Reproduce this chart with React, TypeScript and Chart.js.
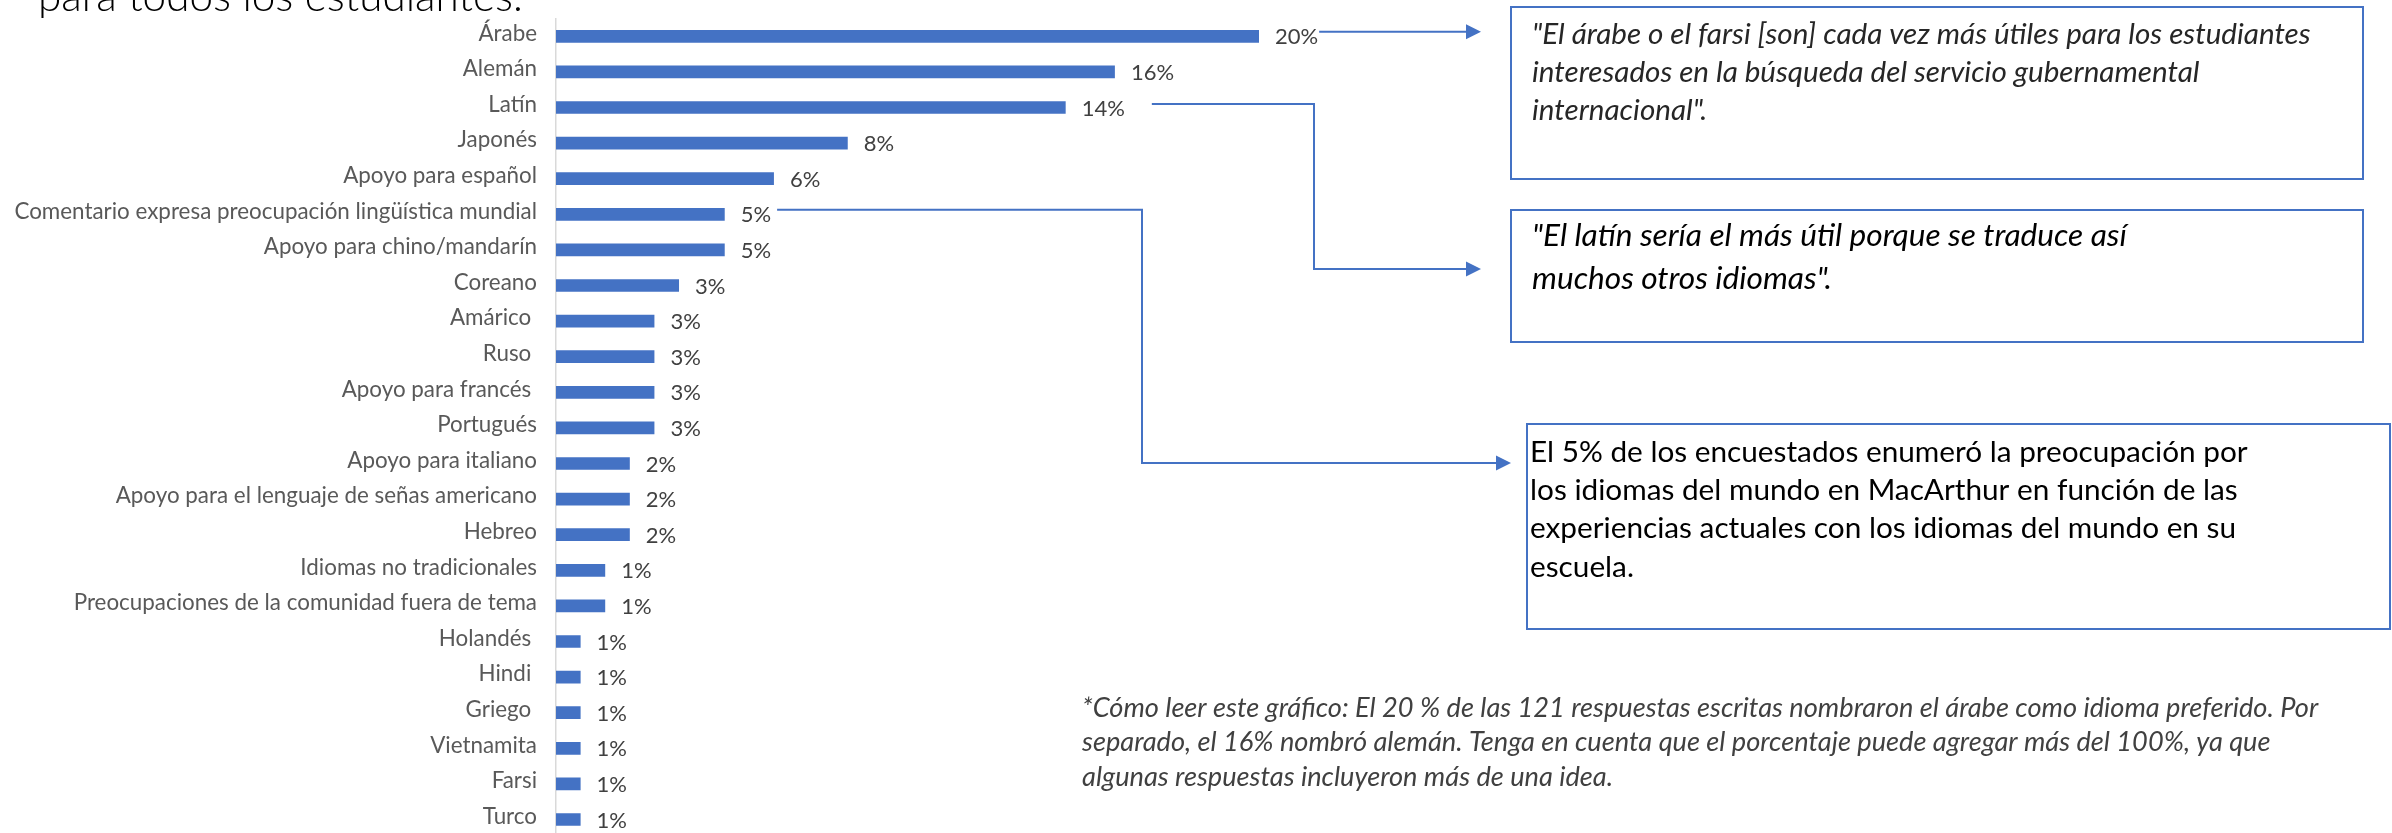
import React, { useEffect, useRef } from "react";
import { Chart, registerables } from "chart.js";

Chart.register(...registerables);

const categories = [
  "Árabe",
  "Alemán",
  "Latín",
  "Japonés",
  "Apoyo para español",
  "Comentario expresa preocupación lingüística mundial",
  "Apoyo para chino/mandarín",
  "Coreano",
  "Amárico ",
  "Ruso ",
  "Apoyo para francés ",
  "Portugués",
  "Apoyo para italiano",
  "Apoyo para el lenguaje de señas americano",
  "Hebreo",
  "Idiomas no tradicionales",
  "Preocupaciones de la comunidad fuera de tema",
  "Holandés ",
  "Hindi ",
  "Griego ",
  "Vietnamita",
  "Farsi",
  "Turco",
];

const values = [
  20, 15.9, 14.5, 8.3, 6.2, 4.8, 4.8, 3.5, 2.8, 2.8, 2.8, 2.8, 2.1, 2.1, 2.1,
  1.4, 1.4, 0.7, 0.7, 0.7, 0.7, 0.7, 0.7,
];

const valueLabels = [
  "20%", "16%", "14%", "8%", "6%", "5%", "5%", "3%", "3%", "3%", "3%", "3%",
  "2%", "2%", "2%", "1%", "1%", "1%", "1%", "1%", "1%", "1%", "1%",
];

const titleText = "para todos los estudiantes.";

const quoteArabic = [
  "\"El árabe o el farsi [son] cada vez más útiles para los estudiantes",
  "interesados en la búsqueda del servicio gubernamental",
  "internacional\".",
];

const quoteLatin = [
  "\"El latín sería el más útil porque se traduce así",
  "muchos otros idiomas\".",
];

const noteWorld = [
  "El 5% de los encuestados enumeró la preocupación por",
  "los idiomas del mundo en MacArthur en función de las",
  "experiencias actuales con los idiomas del mundo en su",
  "escuela.",
];

const footnote = [
  "*Cómo leer este gráfico: El 20 % de las 121 respuestas escritas nombraron el árabe como idioma preferido. Por",
  "separado, el 16% nombró alemán. Tenga en cuenta que el porcentaje puede agregar más del 100%, ya que",
  "algunas respuestas incluyeron más de una idea.",
];

const W = 2392;
const H = 840;
const BLUE = "#4472C4";
const FAMILY = "Lato, 'Open Sans', sans-serif";

function fitSize(ctx: CanvasRenderingContext2D, text: string, target: number, style: string) {
  ctx.font = `${style} 100px ${FAMILY}`;
  const w = ctx.measureText(text).width;
  return (100 * target) / w;
}

function drawBlock(
  ctx: CanvasRenderingContext2D,
  lines: string[],
  x: number,
  y0: number,
  lineGap: number,
  target: number,
  style: string,
  color: string
) {
  const size = fitSize(ctx, lines[0], target, style);
  ctx.font = `${style} ${size}px ${FAMILY}`;
  ctx.fillStyle = color;
  ctx.textAlign = "left";
  ctx.textBaseline = "middle";
  lines.forEach((l, i) => ctx.fillText(l, x, y0 + i * lineGap));
}

function arrowHead(ctx: CanvasRenderingContext2D, x: number, y: number) {
  ctx.beginPath();
  ctx.moveTo(x, y);
  ctx.lineTo(x - 15, y - 7.5);
  ctx.lineTo(x - 15, y + 7.5);
  ctx.closePath();
  ctx.fill();
}

const labelFont = `400 22px ${FAMILY}`;
const LABEL_GAP = 16;

const annotationPlugin = {
  id: "annotations",
  afterDatasetsDraw(chart: any) {
    const ctx: CanvasRenderingContext2D = chart.ctx;
    const meta = chart.getDatasetMeta(0);
    ctx.save();
    ctx.font = labelFont;
    ctx.fillStyle = "#404040";
    ctx.textAlign = "left";
    ctx.textBaseline = "middle";
    meta.data.forEach((bar: any, i: number) => {
      ctx.fillText(valueLabels[i], bar.x + LABEL_GAP, bar.y + 1);
    });
    ctx.restore();
  },
  afterDraw(chart: any) {
    const ctx: CanvasRenderingContext2D = chart.ctx;
    const meta = chart.getDatasetMeta(0);
    ctx.save();

    // title fragment (cut off at the top)
    const ts = fitSize(ctx, titleText, 485, "300");
    ctx.font = `300 ${ts}px ${FAMILY}`;
    ctx.fillStyle = "#000000";
    ctx.textAlign = "left";
    ctx.textBaseline = "alphabetic";
    ctx.fillText(titleText, 38, 11);

    ctx.font = labelFont;
    const labelEnd = (i: number) =>
      meta.data[i].x + LABEL_GAP + ctx.measureText(valueLabels[i]).width;

    const box1 = { x: 1511, y: 7, w: 852, h: 172 };
    const box2 = { x: 1511, y: 210, w: 852, h: 132 };
    const box3 = { x: 1527, y: 424, w: 863, h: 205 };

    ctx.strokeStyle = BLUE;
    ctx.fillStyle = BLUE;
    ctx.lineWidth = 2;

    // connector 1: Árabe
    {
      const y = meta.data[0].y - 4.5;
      const x0 = labelEnd(0) + 1;
      const x1 = box1.x - 30;
      ctx.beginPath();
      ctx.moveTo(x0, y);
      ctx.lineTo(x1 - 12, y);
      ctx.stroke();
      arrowHead(ctx, x1, y);
    }
    // connector 2: Latín
    {
      const y = meta.data[2].y - 3.5;
      const x0 = labelEnd(2) + 27;
      const xe = 1314;
      const y2 = box2.y + 59;
      const x1 = box2.x - 30;
      ctx.beginPath();
      ctx.moveTo(x0, y);
      ctx.lineTo(xe, y);
      ctx.lineTo(xe, y2);
      ctx.lineTo(x1 - 12, y2);
      ctx.stroke();
      arrowHead(ctx, x1, y2);
    }
    // connector 3: Comentario
    {
      const y = meta.data[5].y - 4.5;
      const x0 = labelEnd(5) + 6;
      const xe = 1142;
      const y2 = box3.y + 39;
      const x1 = box3.x - 16;
      ctx.beginPath();
      ctx.moveTo(x0, y);
      ctx.lineTo(xe, y);
      ctx.lineTo(xe, y2);
      ctx.lineTo(x1 - 12, y2);
      ctx.stroke();
      arrowHead(ctx, x1, y2);
    }

    [box1, box2, box3].forEach((b) => {
      ctx.strokeRect(b.x, b.y, b.w, b.h);
    });

    drawBlock(ctx, quoteArabic, box1.x + 21, 34, 38, 779, "italic 400", "#262626");
    drawBlock(ctx, quoteLatin, box2.x + 21, 236, 43, 595, "italic 400", "#000000");
    drawBlock(ctx, noteWorld, box3.x + 3, 452, 38.3, 718, "400", "#000000");
    drawBlock(ctx, footnote, 1082, 708, 34.5, 1237, "italic 400", "#404040");

    ctx.restore();
  },
};

export default function App() {
  const canvasRef = useRef<HTMLCanvasElement | null>(null);

  useEffect(() => {
    document.body.style.margin = "0";
    document.body.style.overflow = "hidden";
    const canvas = canvasRef.current;
    if (!canvas) return;
    const chart = new Chart(canvas, {
      type: "bar",
      data: {
        labels: categories,
        datasets: [
          {
            data: values,
            backgroundColor: BLUE,
            borderWidth: 0,
            barPercentage: 0.357,
            categoryPercentage: 1,
          },
        ],
      },
      options: {
        indexAxis: "y",
        responsive: false,
        animation: false,
        devicePixelRatio: 1,
        layout: {
          autoPadding: false,
          padding: { top: 18.5, bottom: 2.7, left: 0, right: W - 1259 },
        },
        plugins: {
          legend: { display: false },
          tooltip: { enabled: false },
          title: { display: false },
        },
        scales: {
          x: { display: false, min: 0, max: 20 },
          y: {
            type: "category",
            grid: { display: false, drawTicks: false },
            border: { display: true, color: "#D9D9D9", width: 1.5 },
            ticks: {
              color: "#595959",
              font: { family: FAMILY, size: 22.4, weight: "400" },
              padding: 19,
              labelOffset: -3,
              autoSkip: false,
            },
            afterFit: (s: any) => {
              s.width = 556;
              s.paddingTop = 0;
              s.paddingBottom = 0;
            },
          },
        },
      },
      plugins: [annotationPlugin],
    });
    return () => chart.destroy();
  }, []);

  return (
    <div style={{ width: W, height: H, overflow: "hidden", background: "#fff" }}>
      <canvas ref={canvasRef} width={W} height={H} style={{ display: "block" }} />
    </div>
  );
}
